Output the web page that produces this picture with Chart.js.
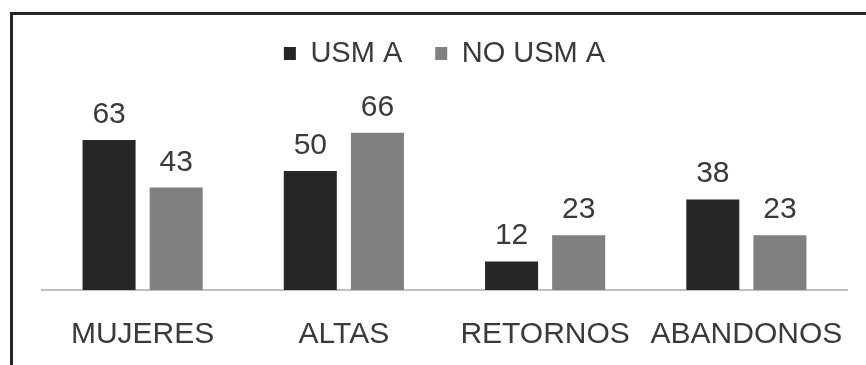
<!DOCTYPE html>
<html>
<head>
<meta charset="utf-8">
<script src="https://cdn.jsdelivr.net/npm/chart.js@4"></script>
<style>
  html, body { margin: 0; padding: 0; background: #fff; overflow: hidden; }
  #marco {
    position: absolute; left: 10px; top: 12px; width: 900px; height: 400px;
    border-top: 3px solid #262626; border-left: 3px solid #262626;
  }
  #lienzo { position: absolute; left: 0; top: 0; }
</style>
</head>
<body>
<div id="marco"></div>
<div id="lienzo" style="width:866px;height:372px"><canvas id="grafico"></canvas></div>
<script>
const categorias = ['MUJERES', 'ALTAS', 'RETORNOS', 'ABANDONOS'];
const usma = [63, 50, 12, 38];
const noUsma = [43, 66, 23, 23];

const fuente = "'Liberation Sans', Arial, sans-serif";

// etiquetas de valor encima de cada barra
const etiquetas = {
  id: 'etiquetas',
  afterDatasetsDraw(chart) {
    const ctx = chart.ctx;
    ctx.save();
    ctx.font = `30px ${fuente}`;
    ctx.fillStyle = '#3a3a3a';
    ctx.textAlign = 'center';
    ctx.textBaseline = 'alphabetic';
    chart.data.datasets.forEach((ds, i) => {
      chart.getDatasetMeta(i).data.forEach((bar, j) => {
        ctx.fillText(ds.data[j], bar.x, bar.y - 17);
      });
    });
    ctx.restore();
  }
};

new Chart(document.getElementById('grafico'), {
  type: 'bar',
  data: {
    labels: categorias,
    datasets: [
      { label: 'USM A', data: usma, backgroundColor: '#262626', borderWidth: 0 },
      { label: 'NO USM A', data: noUsma, backgroundColor: '#808080', borderWidth: 0 },
    ],
  },
  options: {
    responsive: true,
    maintainAspectRatio: false,
    animation: false,
    categoryPercentage: 0.667,
    barPercentage: 0.79,
    layout: { padding: { top: 6, left: 42, right: 19, bottom: 0 } },
    plugins: {
      legend: {
        position: 'top',
        labels: {
          boxWidth: 12, boxHeight: 13, padding: 33, color: '#3a3a3a',
          font: { family: fuente, size: 29 },
        },
      },
      tooltip: { enabled: false },
    },
    scales: {
      x: {
        grid: { display: false },
        border: { color: '#bfbfbf', width: 2 },
        ticks: { padding: 19, color: '#3a3a3a', font: { family: fuente, size: 30 }, maxRotation: 0, autoSkip: false },
      },
      y: { display: false, min: 0, max: 89 },
    },
  },
  plugins: [etiquetas],
});
</script>
</body>
</html>
